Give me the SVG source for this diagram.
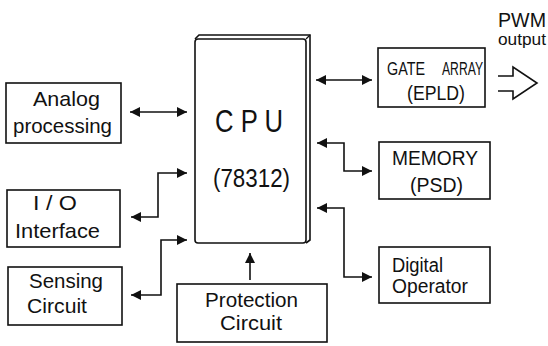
<svg xmlns="http://www.w3.org/2000/svg" width="548" height="346" viewBox="0 0 548 346">
  <style>
    .box { fill: #fff; stroke: #111; stroke-width: 1.6; }
    .lbl { font-family: "Liberation Sans", Arial, sans-serif; font-size: 20px; fill: #111; }
    .big { font-size: 21px; }
    .wire { fill: none; stroke: #111; stroke-width: 1.6; }
  </style>
  <defs>
    <marker id="head" viewBox="0 0 10 10" refX="10" refY="5" markerWidth="10" markerHeight="10" markerUnits="userSpaceOnUse" orient="auto-start-reverse">
      <path d="M0,0 L10,5 L0,10 Z" fill="#111"/>
    </marker>
  </defs>
  <rect width="548" height="346" fill="#fff"/>

  <!-- processor block with slab edge -->
  <g id="cpu">
    <path d="M195,39 L199,35 L310,35 L310,240 L306,243" fill="#fff" stroke="#111" stroke-width="1.6"/>
    <path d="M306,39 L310,35" stroke="#111" stroke-width="1.2"/>
    <rect class="box" x="195" y="39" width="111" height="204" rx="3"/>
    <text class="lbl" x="215" y="132" style="font-size:32px" textLength="68" lengthAdjust="spacingAndGlyphs">C P U</text>
    <text class="lbl" x="213" y="187" style="font-size:25px" textLength="77" lengthAdjust="spacingAndGlyphs">(78312)</text>
  </g>

  <g id="analog">
    <rect class="box" x="6" y="83" width="115" height="60"/>
    <text class="lbl big" x="33" y="106" textLength="67" lengthAdjust="spacingAndGlyphs">Analog</text>
    <text class="lbl big" x="13" y="133" textLength="99" lengthAdjust="spacingAndGlyphs">processing</text>
  </g>

  <g id="io">
    <rect class="box" x="7" y="190" width="113" height="57"/>
    <text class="lbl big" x="33" y="210" textLength="44" lengthAdjust="spacingAndGlyphs">I / O</text>
    <text class="lbl big" x="15" y="238" textLength="85" lengthAdjust="spacingAndGlyphs">Interface</text>
  </g>

  <g id="sensing">
    <rect class="box" x="8" y="267" width="114" height="58"/>
    <text class="lbl big" x="29" y="288" textLength="74" lengthAdjust="spacingAndGlyphs">Sensing</text>
    <text class="lbl big" x="27" y="313" textLength="60" lengthAdjust="spacingAndGlyphs">Circuit</text>
  </g>

  <g id="protection">
    <rect class="box" x="177" y="284" width="150" height="58"/>
    <text class="lbl" x="205" y="307" textLength="93" lengthAdjust="spacingAndGlyphs">Protection</text>
    <text class="lbl" x="220" y="330" textLength="62" lengthAdjust="spacingAndGlyphs">Circuit</text>
  </g>

  <g id="gate-array">
    <rect class="box" x="378" y="48" width="107" height="59"/>
    <text class="lbl" y="75" style="font-size:18px"><tspan x="387" textLength="38" lengthAdjust="spacingAndGlyphs">GATE</tspan><tspan x="442" textLength="41" lengthAdjust="spacingAndGlyphs">ARRAY</tspan></text>
    <text class="lbl" x="407" y="100" textLength="58" lengthAdjust="spacingAndGlyphs">(EPLD)</text>
  </g>

  <g id="memory">
    <rect class="box" x="379" y="142" width="111" height="57"/>
    <text class="lbl" x="392" y="165" textLength="86" lengthAdjust="spacingAndGlyphs">MEMORY</text>
    <text class="lbl" x="410" y="192" textLength="53" lengthAdjust="spacingAndGlyphs">(PSD)</text>
  </g>

  <g id="digital-operator">
    <rect class="box" x="379" y="247" width="111" height="56"/>
    <text class="lbl" x="392" y="272" textLength="51" lengthAdjust="spacingAndGlyphs">Digital</text>
    <text class="lbl" x="392" y="293" textLength="76" lengthAdjust="spacingAndGlyphs">Operator</text>
  </g>

  <g id="pwm-output">
    <path class="wire" d="M498,76 H513 V67 L537,83 L513,99 V91 H498" stroke-width="1.3"/>
    <text class="lbl" x="498" y="27" style="font-size:19.5px" textLength="48" lengthAdjust="spacingAndGlyphs">PWM</text>
    <text class="lbl" x="498" y="45" style="font-size:17px" textLength="48" lengthAdjust="spacingAndGlyphs">output</text>
  </g>

  <g id="connectors">
    <line class="wire" x1="130" y1="112" x2="187" y2="112" marker-start="url(#head)" marker-end="url(#head)"/>
    <polyline class="wire" points="131,217 158,217 158,173 187,173" marker-start="url(#head)" marker-end="url(#head)"/>
    <polyline class="wire" points="131,295 161,295 161,240 187,240" marker-start="url(#head)" marker-end="url(#head)"/>
    <line class="wire" x1="250" y1="280" x2="250" y2="253" marker-end="url(#head)"/>
    <line class="wire" x1="316" y1="80" x2="372" y2="80" marker-start="url(#head)" marker-end="url(#head)"/>
    <polyline class="wire" points="317,143 344,143 344,171 372,171" marker-start="url(#head)" marker-end="url(#head)"/>
    <polyline class="wire" points="317,208 344,208 344,277 372,277" marker-start="url(#head)" marker-end="url(#head)"/>
  </g>
</svg>
